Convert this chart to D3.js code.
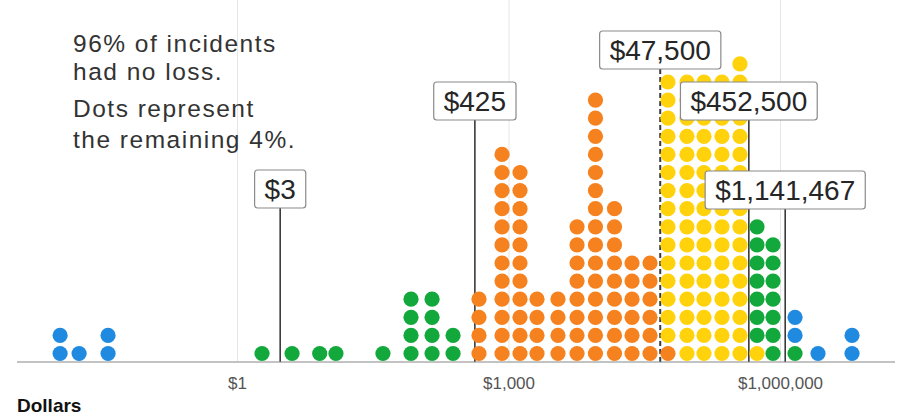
<!DOCTYPE html>
<html><head><meta charset="utf-8">
<script src="https://cdn.jsdelivr.net/npm/d3@7"></script>
<style>body{margin:0;background:#fff;} svg{display:block}</style>
</head><body><svg id="c" width="899" height="416"></svg>
<script>
// Column positions (dollars) and number of stacked dots per column
const columnValues = [0.0111, 0.018, 0.0376, 1.89, 4.06, 8.2, 12.4, 41, 83.7, 143, 244,
  472, 848, 1340, 2065, 3522, 5717, 9140, 14830, 23170, 36620,
  57830, 93760, 144500, 228400, 361000, 557000, 837000, 1466000, 2630000, 6250000];
const columnCounts = [2, 1, 2, 1, 1, 1, 1, 1, 4, 4, 2,
  4, 12, 11, 4, 4, 8, 15, 9, 6, 6,
  16, 16, 16, 16, 17, 8, 7, 3, 1, 2];
// Dots coloured by rank band (lowest to highest)
const bandSizes = [5, 15, 80, 81, 15, 5];
const bandColors = ["#1f8ae0", "#13a83c", "#f5821f", "#ffd20c", "#13a83c", "#1f8ae0"];
// Marked percentiles
const markerValues = [3, 425, 47500, 452500, 1141467];
const markerLabels = ["$3", "$425", "$47,500", "$452,500", "$1,141,467"];
const tickValues = [1, 1000, 1000000];
const tickLabels = ["$1", "$1,000", "$1,000,000"];
const noteLines = ["96% of incidents", "had no loss.", "Dots represent", "the remaining 4%."];
const axisTitle = "Dollars";

const svg = d3.select("#c");
const baseY = 362;
const x = d3.scaleLog().domain([1, 1e6]).range([237, 780]);
const y = d3.scaleLinear().domain([0, 16]).range([353.5, 353.5 - 16 * 18.1]);
const font = "'Liberation Sans', Arial, Helvetica, sans-serif";

// axis with gridlines
const axis = d3.axisBottom(x).tickValues(tickValues)
  .tickFormat((d, i) => tickLabels[i]).tickSizeInner(-baseY).tickSizeOuter(0).tickPadding(15);
const ag = svg.append("g").attr("transform", `translate(0,${baseY})`).call(axis);
ag.select(".domain").remove();
ag.selectAll(".tick line").attr("stroke", "#e6e6e6").attr("stroke-width", 1);
ag.selectAll(".tick text").attr("fill", "#555").style("font-family", font).style("font-size", "17px");

// marker lines
const markerLayout = [{top: 170, dashed: false}, {top: 82, dashed: false}, {top: 31, dashed: true}, {top: 82, dashed: false}, {top: 171, dashed: false}];
const boxH = 38;
svg.append("g").selectAll("line").data(markerValues).join("line")
  .attr("x1", d => x(d)).attr("x2", d => x(d))
  .attr("y1", baseY).attr("y2", (d, i) => markerLayout[i].top + boxH)
  .attr("stroke", "#3a3a3a").attr("stroke-width", (d, i) => markerLayout[i].dashed ? 2 : 1.6)
  .attr("stroke-dasharray", (d, i) => markerLayout[i].dashed ? "5,3" : null);

// dots
const bandEnds = d3.cumsum(bandSizes);
const dots = [];
let rank = 0;
columnValues.forEach((v, ci) => {
  for (let k = 0; k < columnCounts[ci]; k++) {
    dots.push({v, k, color: bandColors[d3.bisectRight(bandEnds, rank)]});
    rank++;
  }
});
svg.append("g").selectAll("circle").data(dots).join("circle")
  .attr("cx", d => x(d.v)).attr("cy", d => y(d.k)).attr("r", 7.6)
  .attr("fill", d => d.color);

// baseline
svg.append("line").attr("x1", 17).attr("x2", 895).attr("y1", baseY).attr("y2", baseY)
  .attr("stroke", "#888").attr("stroke-width", 1.2);

// marker labels
const lg = svg.append("g");
markerValues.forEach((v, i) => {
  const g = lg.append("g");
  const t = g.append("text").attr("x", x(v)).attr("y", markerLayout[i].top + 28.5)
    .attr("text-anchor", "middle").attr("fill", "#262626")
    .style("font-family", font).style("font-size", "28px").text(markerLabels[i]);
  const w = t.node().getComputedTextLength() + 20;
  g.insert("rect", "text").attr("x", x(v) - w / 2).attr("y", markerLayout[i].top)
    .attr("width", w).attr("height", boxH).attr("rx", 3)
    .attr("fill", "#fff").attr("stroke", "#8a8a8a").attr("stroke-width", 1.2);
});

// note
const noteY = [52, 79.5, 116.5, 148];
svg.append("g").selectAll("text").data(noteLines).join("text")
  .attr("x", 73).attr("y", (d, i) => noteY[i]).attr("fill", "#333")
  .style("font-family", font).style("font-size", "24.5px").style("letter-spacing", "1.5px")
  .text(d => d);

svg.append("text").attr("x", 17).attr("y", 412).attr("fill", "#111")
  .style("font-family", font).style("font-size", "19px").style("font-weight", "bold").text(axisTitle);
</script></body></html>
